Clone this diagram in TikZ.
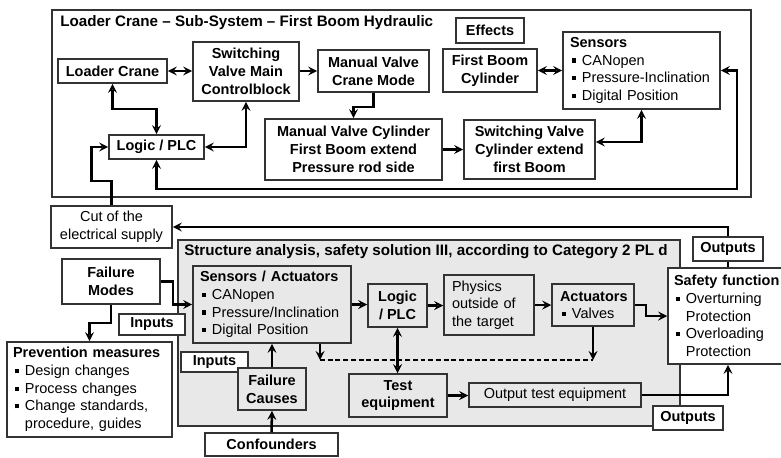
\documentclass[tikz,border=0pt]{standalone}
\usepackage{fontspec}
\setmainfont{Liberation Sans}
\usepackage{tikz}
\newcommand{\itm}{\hspace*{1.5pt}\rule[1.8pt]{3pt}{3pt}\hspace*{4pt}}
\newcommand{\ind}{\hspace*{8.5pt}}
\hyphenpenalty=10000
\begin{document}
\begin{tikzpicture}[>=stealth, inner sep=0pt,
  blk/.style={draw=black!80, line width=1.1pt, fill=white, font=\fontsize{10.3}{12.6}\selectfont\bfseries, align=center},
  txt/.style={draw=black!80, line width=1.1pt, fill=white, font=\fontsize{10.3}{12.6}\selectfont, align=center},
  lst/.style={txt, align=left, inner xsep=0.175cm},
  gry/.style={fill=black!9},
  ttlfont/.style={font=\fontsize{10.8}{13}\selectfont\bfseries},
  arr/.style={line width=1.8pt}]
\useasboundingbox (0,0) rectangle (19.525,-11.425);
% frames
\draw[line width=1pt, draw=black!80] (1.3,-0.25) rectangle (18.775,-4.925);
\draw[line width=1pt, draw=black!80, fill=black!9] (4.45,-6) rectangle (17,-10.65);
\node (ttl) at (1.5,-0.575) [anchor=west, ttlfont] {Loader Crane -- Sub-System -- First Boom Hydraulic};
\node (sttl) at (4.6,-6.3) [anchor=west, ttlfont] {Structure analysis, safety solution III, according to Category 2 PL d};
% upper sub-system
\node (loader) at (2.8125,-1.775) [blk, minimum width=2.725cm, minimum height=0.6cm] {Loader Crane};
\node (swv) at (6.15,-1.7875) [blk, minimum width=2.65cm, minimum height=1.475cm] {Switching\\Valve Main\\Controlblock};
\node (mvcm) at (9.3375,-1.775) [blk, minimum width=2.775cm, minimum height=1.05cm] {Manual Valve\\Crane Mode};
\node (plc) at (3.9125,-3.675) [blk, minimum width=2.375cm, minimum height=0.6cm] {Logic / PLC};
\node (mvc) at (8.8375,-3.7375) [blk, minimum width=4.425cm, minimum height=1.525cm] {Manual Valve Cylinder\\First Boom extend\\Pressure rod side};
\node (svc) at (13.2375,-3.7375) [blk, minimum width=3.275cm, minimum height=1.475cm] {Switching Valve\\Cylinder extend\\first Boom};
\node (eff) at (12.25,-0.7625) [blk, minimum width=1.7cm, minimum height=0.625cm] {Effects};
\node (fbc) at (12.25,-1.7625) [blk, minimum width=2.35cm, minimum height=1.075cm] {First Boom\\Cylinder};
\node (sens) at (16.0375,-1.7625) [lst, text width=3.575cm, minimum height=1.925cm] {\textbf{Sensors}\\\itm CANopen\\\itm Pressure-Inclination\\\itm Digital Position};
\node (cut) at (2.7875,-5.675) [txt, minimum width=3.025cm, minimum height=1.05cm] {Cut of the\\electrical supply};
% structure analysis
\node (fm) at (2.775,-7.0375) [blk, minimum width=2.45cm, minimum height=1.125cm] {Failure\\Modes};
\node (prev) at (2.2375,-9.7375) [lst, inner xsep=0.15cm, text width=3.825cm, minimum height=2.375cm] {\textbf{Prevention measures}\\\itm Design changes\\\itm Process changes\\\itm Change standards,\\\ind procedure, guides};
\node (in1) at (3.8,-8.1125) [blk, minimum width=1.65cm, minimum height=0.525cm] {Inputs};
\node (sa) at (6.8,-7.6125) [lst, gry, text width=3.6cm, minimum height=1.925cm] {\textbf{Sensors / Actuators}\\\itm CANopen\\\itm Pressure/Inclination\\\itm Digital Position};
\node (in2) at (5.3625,-9.05) [blk, minimum width=1.675cm, minimum height=0.5cm] {Inputs};
\node (fc) at (6.8,-9.725) [blk, gry, minimum width=1.7cm, minimum height=1.05cm] {Failure\\Causes};
\node (conf) at (6.7875,-11.1125) [blk, minimum width=3.325cm, minimum height=0.575cm] {Confounders};
\node (plc2) at (9.9375,-7.6375) [blk, gry, minimum width=1.475cm, minimum height=1.075cm] {Logic\\/ PLC};
\node (phys) at (12.225,-7.625) [lst, gry, inner xsep=0.2cm, text width=1.85cm, minimum height=1.5cm] {Physics\\outside of\\the target};
\node (act) at (14.825,-7.625) [lst, gry, inner xsep=0.2cm, text width=1.65cm, minimum height=1.05cm] {\textbf{Actuators}\\\itm Valves};
\node (sf) at (18.225,-7.9) [lst, inner xsep=0.15cm, text width=2.75cm, minimum height=2.4cm] {\textbf{Safety function}\\\itm Overturning\\\ind Protection\\\itm Overloading\\\ind Protection};
\node (out1) at (18.2,-6.225) [blk, minimum width=1.75cm, minimum height=0.6cm] {Outputs};
\node (test) at (9.95,-9.8875) [blk, gry, minimum width=2.45cm, minimum height=1.075cm] {Test\\equipment};
\node (ote) at (13.875,-9.875) [txt, gry, minimum width=4.3cm, minimum height=0.6cm] {Output test equipment};
\node (out2) at (17.2,-10.45) [blk, minimum width=1.75cm, minimum height=0.6cm] {Outputs};
% connectors
\draw[<->, arr] (loader.east) -- (loader.east -| swv.west);
\draw[->, arr] (swv.east |- mvcm.west) -- (mvcm.west);
\draw[<->, arr] (fbc.east) -- (sens.west |- fbc.east);
\draw[<->, arr] (loader.south) -- ++(0,-0.625) -| (plc.north);
\draw[<->, arr] (swv.south) |- (plc.east);
\draw[->, arr] (mvcm.south) -- ++(0,-0.35) -| (mvc.north);
\draw[->, arr] (mvc.east) -- (svc.west);
\draw[<->, arr] (sens.south) |- ([yshift=0.1875cm]svc.east);
\coordinate (rc) at (18.425,-4.725);
\draw[<->, arr] (sens.east) -| (rc) -| (plc.south);
\draw[->, arr] (cut.north) -- ++(0,0.6) -- ++(-0.5,0) |- (plc.west);
\draw[arr] (out1.south) -- (out1.south |- sf.north);
\draw[->, arr] (out1.north) |- (cut.east);
\draw[->, arr] (fm.east) -- ++(0.3,0) |- (sa.west);
\draw[->, arr] (fm.south) -- ++(0,-0.45) -| (prev.north);
\draw[->, arr] (sa.east) -- (sa.east -| plc2.west);
\draw[->, arr] (plc2.east) -- (phys.west |- plc2.east);
\draw[->, arr] (phys.east) -- (act.west);
\draw[->, arr] (act.east) -- ++(0.275,0) |- (sf.west);
\draw[->, arr] (fc.north) -- (sa.south);
\draw[->, arr] (conf.north) -- (fc.south);
\draw[<->, arr] (plc2.south) -- (plc2.south |- test.north);
\draw[->, arr] (test.east) -- (ote.west |- test.east);
\draw[->, arr] (ote.east) -| (out1.center |- sf.south);
\coordinate (d1) at (8,-9);
\coordinate (d2) at (14.825,-9);
\draw[->, arr] (d1 |- sa.south) -- (d1);
\draw[->, arr] (act.south) -- (d2);
\draw[dashed, line width=0.8pt, dash pattern=on 3.5pt off 2pt] (d1) -- (d2);
\end{tikzpicture}
\end{document}
